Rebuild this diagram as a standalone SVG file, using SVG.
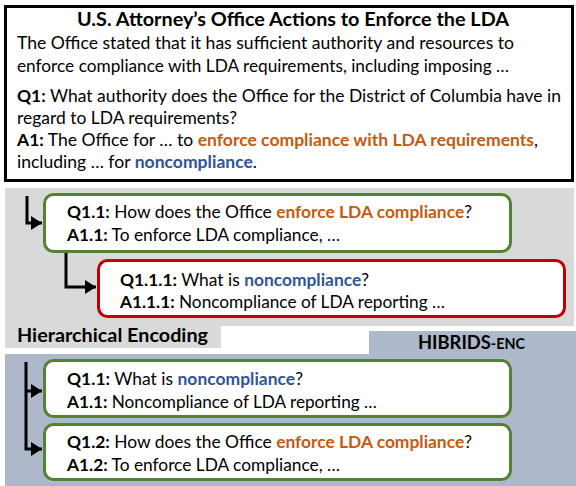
<svg xmlns="http://www.w3.org/2000/svg" width="576" height="486" viewBox="0 0 576 486">
<style>
.t{font-family:Lato,"Liberation Sans",sans-serif;font-size:17.4px;fill:#000}
.b{font-weight:bold}
.o{font-weight:bold;fill:#C55A11}
.u{font-weight:bold;fill:#2F5597}
.h{font-family:Lato,"Liberation Sans",sans-serif;font-weight:bold;fill:#000}
.gbox{fill:#fff;stroke:#548235;stroke-width:3}
.rbox{fill:#fff;stroke:#C00000;stroke-width:3}
.conn{fill:none;stroke:#000;stroke-width:3}
</style>
<defs>
<marker id="arr" markerUnits="userSpaceOnUse" markerWidth="12" markerHeight="14" refX="11" refY="7" orient="auto">
<path d="M0,0 L11,7 L0,14 z" fill="#000"/>
</marker>
</defs>
<rect width="576" height="486" fill="#fff"/>
<!-- panels -->
<path d="M5,188 H574 V326 H221 V348 H5 Z" fill="#D9D9D9"/>
<path d="M369,331 H576 V486 H5 V354 H369 Z" fill="#ADB9CA"/>
<text class="h" x="17" y="342" font-size="19.8" textLength="191" lengthAdjust="spacingAndGlyphs">Hierarchical Encoding</text>
<text class="h" x="418" y="349" font-size="18.5" textLength="107" lengthAdjust="spacingAndGlyphs">HIBRIDS<tspan font-size="14.5">-ENC</tspan></text>

<g id="source">
<rect x="5.5" y="6.5" width="567" height="174" fill="#fff" stroke="#000" stroke-width="3"/>
<text class="h" x="77" y="26" font-size="19.8" textLength="432" lengthAdjust="spacingAndGlyphs">U.S. Attorney’s Office Actions to Enforce the LDA</text>
<text class="t" x="17" y="49" textLength="497" lengthAdjust="spacingAndGlyphs">The Office stated that it has sufficient authority and resources to</text>
<text class="t" x="17" y="72" textLength="492" lengthAdjust="spacingAndGlyphs">enforce compliance with LDA requirements, including imposing …</text>
<text class="t" x="17" y="102" textLength="544" lengthAdjust="spacingAndGlyphs"><tspan class="b">Q1:</tspan> What authority does the Office for the District of Columbia have in</text>
<text class="t" x="17" y="124" textLength="220" lengthAdjust="spacingAndGlyphs">regard to LDA requirements?</text>
<text class="t" x="17" y="146" textLength="521" lengthAdjust="spacingAndGlyphs"><tspan class="b">A1:</tspan> The Office for … to <tspan class="o">enforce compliance with LDA requirements</tspan>,</text>
<text class="t" x="17" y="168" textLength="240" lengthAdjust="spacingAndGlyphs">including … for <tspan class="u">noncompliance</tspan>.</text>
</g>

<g id="node-q1-1">
<rect class="gbox" x="44.5" y="194.5" width="466" height="57" rx="9"/>
<text class="t" x="67" y="218" textLength="405" lengthAdjust="spacingAndGlyphs"><tspan class="b">Q1.1:</tspan> How does the Office <tspan class="o">enforce LDA compliance</tspan>?</text>
<text class="t" x="67" y="241" textLength="273" lengthAdjust="spacingAndGlyphs"><tspan class="b">A1.1:</tspan> To enforce LDA compliance, …</text>
</g>

<g id="node-q1-1-1">
<rect class="rbox" x="98.5" y="260.5" width="466" height="56" rx="9"/>
<text class="t" x="120" y="286" textLength="249" lengthAdjust="spacingAndGlyphs"><tspan class="b">Q1.1.1:</tspan> What is <tspan class="u">noncompliance</tspan>?</text>
<text class="t" x="120" y="308" textLength="325" lengthAdjust="spacingAndGlyphs"><tspan class="b">A1.1.1:</tspan> Noncompliance of LDA reporting …</text>
</g>

<g id="node-enc-q1-1">
<rect class="gbox" x="44.5" y="360.5" width="466" height="56" rx="9"/>
<text class="t" x="67" y="385" textLength="236" lengthAdjust="spacingAndGlyphs"><tspan class="b">Q1.1:</tspan> What is <tspan class="u">noncompliance</tspan>?</text>
<text class="t" x="67" y="408" textLength="310" lengthAdjust="spacingAndGlyphs"><tspan class="b">A1.1:</tspan> Noncompliance of LDA reporting …</text>
</g>

<g id="node-enc-q1-2">
<rect class="gbox" x="44.5" y="424.5" width="466" height="55" rx="9"/>
<text class="t" x="67" y="448" textLength="405" lengthAdjust="spacingAndGlyphs"><tspan class="b">Q1.2:</tspan> How does the Office <tspan class="o">enforce LDA compliance</tspan>?</text>
<text class="t" x="67" y="471" textLength="273" lengthAdjust="spacingAndGlyphs"><tspan class="b">A1.2:</tspan> To enforce LDA compliance, …</text>
</g>

<g id="connectors">
<path class="conn" d="M27,196 V223 H42" marker-end="url(#arr)"/>
<path class="conn" d="M66,253 V287 H96" marker-end="url(#arr)"/>
<path class="conn" d="M26,362 V449 H42" marker-end="url(#arr)"/>
<path class="conn" d="M26,391 H42" marker-end="url(#arr)"/>
</g>
</svg>
